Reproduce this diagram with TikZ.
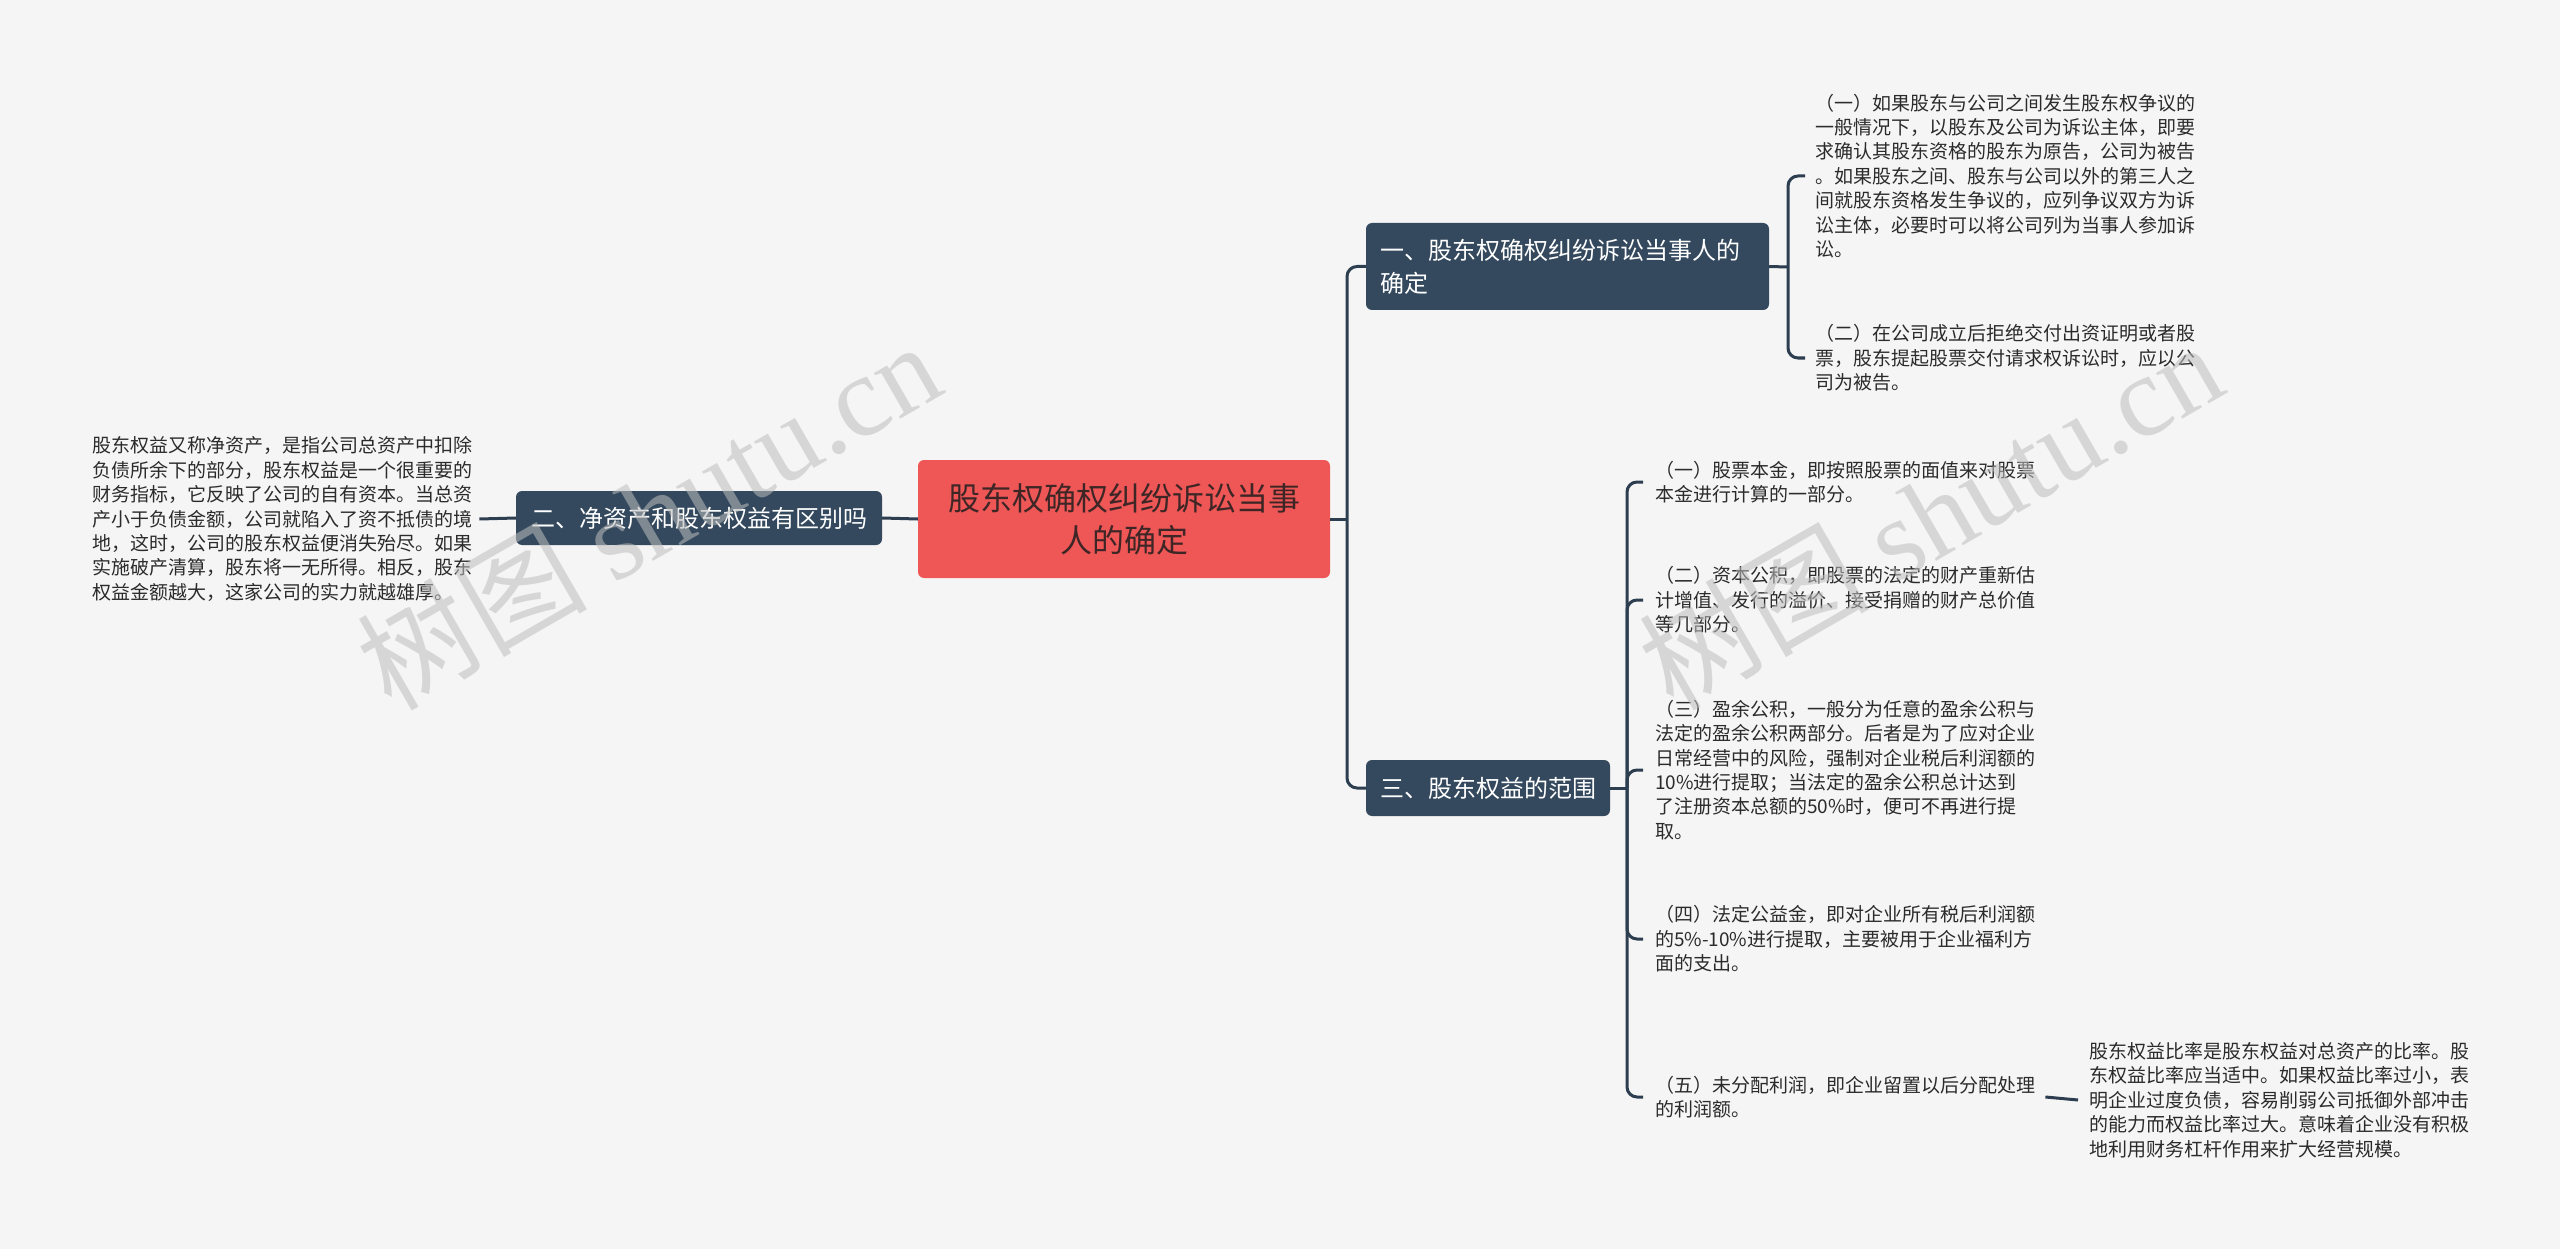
\documentclass[tikz,border=0pt]{standalone}
\usepackage{fontspec}
\setmainfont{Noto Sans CJK SC}
\newfontfamily\wmlatin{Liberation Serif}
\usetikzlibrary{calc}
\definecolor{bg}{HTML}{F5F5F5}
\definecolor{navy}{HTML}{34495E}
\definecolor{linec}{HTML}{2C3E50}
\definecolor{redc}{HTML}{EF5656}
\definecolor{redtext}{HTML}{3E2626}
\definecolor{txt}{HTML}{2B2B2B}
\definecolor{wm}{HTML}{BEBEBE}
\begin{document}
\begin{tikzpicture}[x=1pt,y=-1pt,
  conn/.style={draw=linec,line width=3pt,rounded corners=10pt},
  topic/.style={fill=navy,rounded corners=6pt,text=white,font=\fontsize{24}{33}\selectfont,inner sep=0pt},
  leaf/.style={text=txt,font=\fontsize{19}{24.4}\selectfont,align=left,inner sep=0pt,anchor=west},
  wmark/.style={rotate=30,text=wm,opacity=0.55,font=\fontsize{115}{115}\selectfont,inner sep=0pt}]
\fill[bg] (0,0) rectangle (2560,1249);
\useasboundingbox (0,0) rectangle (2560,1249);

% main nodes
\node[fill=redc,rounded corners=6pt,text=redtext,font=\fontsize{32}{42}\selectfont,align=center,minimum width=412pt,minimum height=118pt,inner sep=0pt] (root) at (1124,519) {股东权确权纠纷诉讼当事\\人的确定};
\node[topic,minimum width=366pt,minimum height=54pt] (n2) at (699,518) {二、净资产和股东权益有区别吗};
\node[topic,minimum width=244pt,minimum height=56pt] (n3) at (1488,788) {三、股东权益的范围};
\node[topic,text width=375pt,inner xsep=14pt,minimum height=87pt,align=left] (n1) at (1567.5,266.5) {一、股东权确权纠纷诉讼当事人的\\确定};

% leaves
\node[leaf] (l1) at (92,519) {股东权益又称净资产，是指公司总资产中扣除\\负债所余下的部分，股东权益是一个很重要的\\财务指标，它反映了公司的自有资本。当总资\\产小于负债金额，公司就陷入了资不抵债的境\\地，这时，公司的股东权益便消失殆尽。如果\\实施破产清算，股东将一无所得。相反，股东\\权益金额越大，这家公司的实力就越雄厚。};

\node[leaf] (a1) at (1815,176) {（一）如果股东与公司之间发生股东权争议的\\一般情况下，以股东及公司为诉讼主体，即要\\求确认其股东资格的股东为原告，公司为被告\\。如果股东之间、股东与公司以外的第三人之\\间就股东资格发生争议的，应列争议双方为诉\\讼主体，必要时可以将公司列为当事人参加诉\\讼。};
\node[leaf] (a2) at (1815,358) {（二）在公司成立后拒绝交付出资证明或者股\\票，股东提起股票交付请求权诉讼时，应以公\\司为被告。};

\node[leaf] (s1) at (1655,482) {（一）股票本金，即按照股票的面值来对股票\\本金进行计算的一部分。};
\node[leaf] (s2) at (1655,600) {（二）资本公积，即股票的法定的财产重新估\\计增值、发行的溢价、接受捐赠的财产总价值\\等几部分。};
\node[leaf] (s3) at (1655,770) {（三）盈余公积，一般分为任意的盈余公积与\\法定的盈余公积两部分。后者是为了应对企业\\日常经营中的风险，强制对企业税后利润额的\\10\%进行提取；当法定的盈余公积总计达到\\了注册资本总额的50\%时，便可不再进行提\\取。};
\node[leaf] (s4) at (1655,939) {（四）法定公益金，即对企业所有税后利润额\\的5\%-10\%进行提取，主要被用于企业福利方\\面的支出。};
\node[leaf] (s5) at (1655,1097) {（五）未分配利润，即企业留置以后分配处理\\的利润额。};

\node[leaf] (r1) at (2089,1100) {股东权益比率是股东权益对总资产的比率。股\\东权益比率应当适中。如果权益比率过小，表\\明企业过度负债，容易削弱公司抵御外部冲击\\的能力而权益比率过大。意味着企业没有积极\\地利用财务杠杆作用来扩大经营规模。};

% connectors
\coordinate (t0) at (1347,519);
\draw[conn] (root.east) -- (t0);
\draw[conn] (n1.west) -| (t0);
\draw[conn] (n3.west) -| (t0);
\draw[conn] (root.west) -- (n2.east);
\draw[conn] (n2.west) -- ([xshift=7pt]l1.east);

\coordinate (b1) at (1788,267);
\draw[conn] (n1.east) -- (b1);
\draw[conn] ([xshift=-10pt]a1.west) -| (b1);
\draw[conn] ([xshift=-10pt]a2.west) -| (b1);

\coordinate (b3) at (1627,788);
\draw[conn] (n3.east) -- (b3);
\draw[conn] ([xshift=-12pt]s1.west) -| (b3);
\draw[conn] ([xshift=-12pt]s2.west) -| (b3);
\draw[conn] ([xshift=-12pt]s3.west) -| (b3);
\draw[conn] ([xshift=-12pt]s4.west) -| (b3);
\draw[conn] ([xshift=-12pt]s5.west) -| (b3);

\draw[conn] ([xshift=10pt]s5.east) -- ([xshift=-11pt]r1.west);

% watermarks
\node[wmark] (w1) at (648,514) {树图 {\wmlatin shutu.cn}};
\node[wmark] (w2) at (1930,514) {树图 {\wmlatin shutu.cn}};
\end{tikzpicture}
\end{document}
